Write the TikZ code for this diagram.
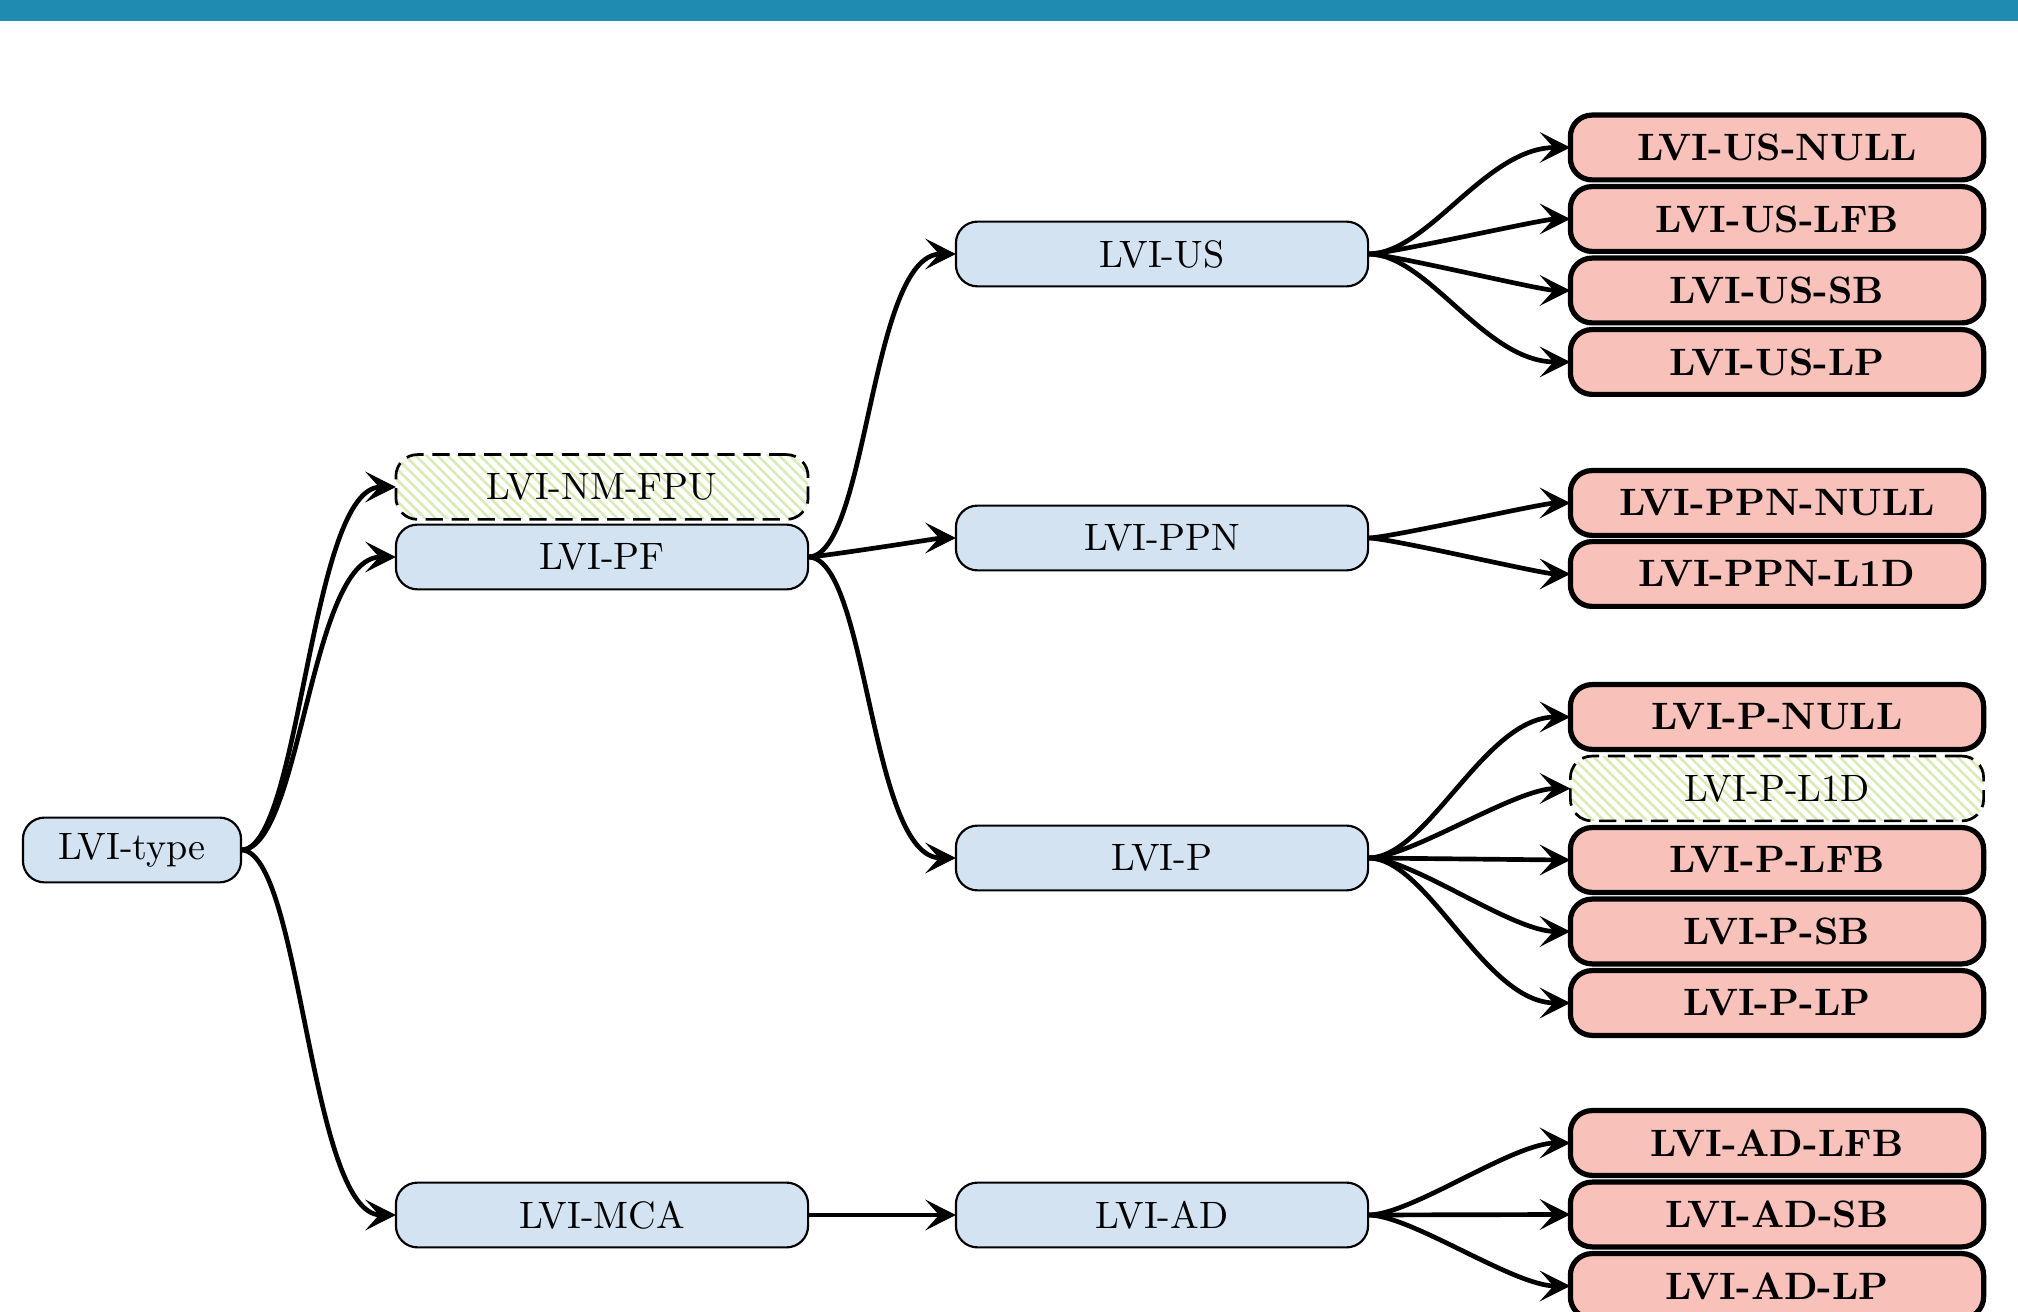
\documentclass[tikz,border=0pt]{standalone}
\usetikzlibrary{arrows.meta,patterns.meta,calc}

\definecolor{barblue}{HTML}{1F8BB0}
\definecolor{nodeblue}{HTML}{D3E3F1}
\definecolor{leafred}{HTML}{F8C2BA}
\definecolor{hatchgreen}{HTML}{D9EBB2}

\begin{document}
\fontsize{10.6pt}{12.7pt}\selectfont
\begin{tikzpicture}[x=0.2778pt,y=-0.2778pt,
  boxbase/.style={rounded corners=6pt, minimum height=18pt, inner sep=0pt, outer sep=0pt},
  inner/.style={boxbase, draw, line width=0.6pt, fill=nodeblue, minimum width=114.5pt},
  leaf/.style={boxbase, draw, line width=1.45pt, fill=leafred, minimum width=114.8pt, font=\bfseries},
  ghost/.style={boxbase, draw, line width=0.75pt, dash pattern=on 4.8pt off 2.4pt,
    pattern={Lines[angle=-45,distance=2.1pt,line width=0.7pt]}, pattern color=hatchgreen},
  link/.style={line width=1.3pt, -{Stealth[length=8.5pt,width=8.5pt,inset=3.8pt]}},
]
\clip (0,0) rectangle (2018,1312);
\fill[white] (0,0) rectangle (2018,1312);
\fill[barblue] (0,0) rectangle (2018,21);

% root and first level
\node[inner, minimum width=60.6pt] (type) at (132,850) {LVI-type};
\node[ghost, minimum width=114.5pt] (fpu) at (602,487) {LVI-NM-FPU};
\node[inner] (pf)  at (602,557) {LVI-PF};
\node[inner] (mca) at (602,1215) {LVI-MCA};

% second level
\node[inner] (us)  at (1162,254) {LVI-US};
\node[inner] (ppn) at (1162,538) {LVI-PPN};
\node[inner] (p)   at (1162,858) {LVI-P};
\node[inner] (ad)  at (1162,1215) {LVI-AD};

% leaves
\node[leaf] (usnull) at (1777,147.5) {LVI-US-NULL};
\node[leaf] (uslfb)  at (1777,219)   {LVI-US-LFB};
\node[leaf] (ussb)   at (1777,290.5) {LVI-US-SB};
\node[leaf] (uslp)   at (1777,362)   {LVI-US-LP};

\node[leaf] (ppnnull) at (1777,503) {LVI-PPN-NULL};
\node[leaf] (ppnlid)  at (1777,574) {LVI-PPN-L1D};

\node[leaf] (pnull) at (1777,717)    {LVI-P-NULL};
\node[ghost, minimum width=114.8pt] (plid) at (1777,788.5) {LVI-P-L1D};
\node[leaf] (plfb)  at (1777,860)    {LVI-P-LFB};
\node[leaf] (psb)   at (1777,931.5)  {LVI-P-SB};
\node[leaf] (plp)   at (1777,1003)   {LVI-P-LP};

\node[leaf] (adlfb) at (1777,1143)   {LVI-AD-LFB};
\node[leaf] (adsb)  at (1777,1214.5) {LVI-AD-SB};
\node[leaf] (adlp)  at (1777,1286)   {LVI-AD-LP};

% connectors: the horizontal pull of each curve grows with the vertical offset,
% a little longer at the arrow end so the heads sit level
% (\n1 and \n2 are lengths in pt)
\foreach \a/\b in {type/fpu, type/pf, type/mca,
                   pf/us, pf/ppn, pf/p, mca/ad,
                   us/usnull, us/uslfb, us/ussb, us/uslp,
                   ppn/ppnnull, ppn/ppnlid,
                   p/pnull, p/plid, p/plfb, p/psb, p/plp,
                   ad/adlfb, ad/adsb, ad/adlp}
  \draw[link] let \p1=(\a.east), \p2=(\b.west),
                  \n1={min(16.67,0.6*abs(\y2-\y1))},
                  \n2={min(24,0.8*abs(\y2-\y1))} in
    (\a.east) .. controls +(\n1,0pt) and +(-\n2,0pt) .. (\b.west);
\end{tikzpicture}
\end{document}
